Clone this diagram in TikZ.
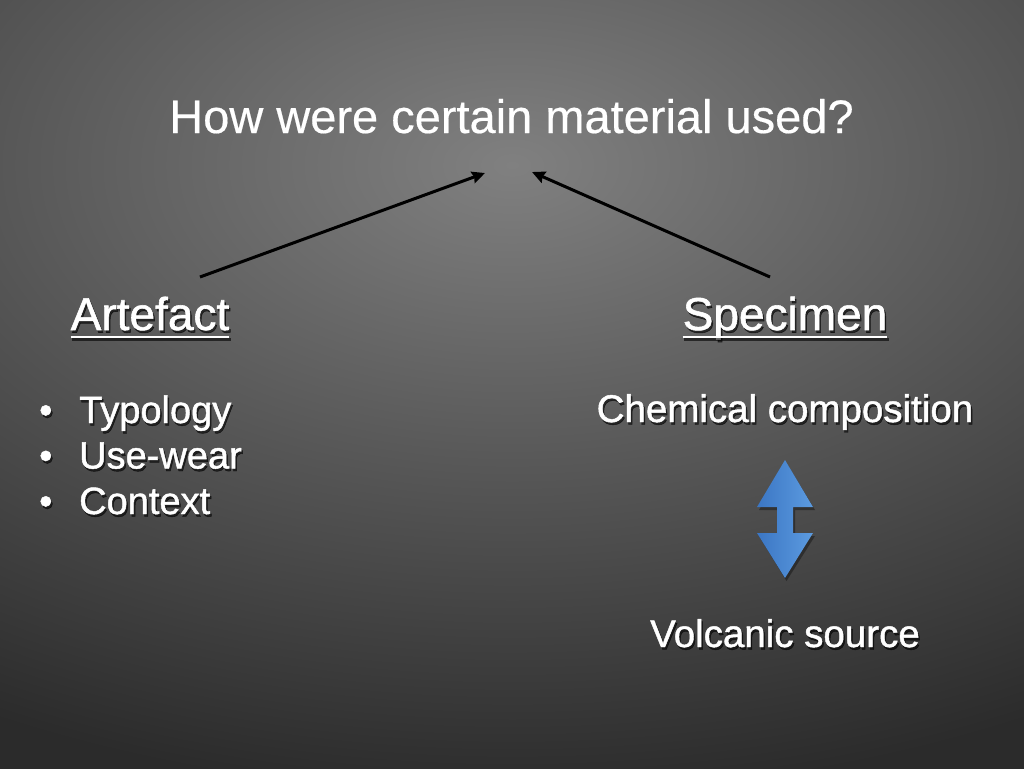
\documentclass[tikz,border=0pt]{standalone}
\usepackage{fontspec}
\setmainfont{Liberation Sans}
\newfontfamily\medfont[FakeBold=1.2]{Liberation Sans}
\newfontfamily\titfont[FakeBold=0.4]{Liberation Sans}
\usetikzlibrary{arrows.meta,calc}
\definecolor{bgin}{HTML}{808080}
\definecolor{bgout}{HTML}{2B2B2B}
\definecolor{blueL}{HTML}{3B76C4}
\definecolor{blueR}{HTML}{5C9BE0}
\pgfdeclareradialshading{bgsh}{\pgfpointorigin}{color(0bp)=(bgin); color(20bp)=(bgout); color(50bp)=(bgout)}
\newcommand\stxt[4]{%
  \node[shd,font=#3] (#1-s) at ($(#2)+(1.5,2.5)$) {#4};
  \node[txt,font=#3] (#1) at (#2) {#4};}
\begin{document}
\begin{tikzpicture}[x=1pt,y=-1pt,
  txt/.style={text=white, inner sep=0pt, anchor=base},
  shd/.style={text=black, opacity=0.6, inner sep=0pt, anchor=base},
  bul/.style={text=white, inner sep=0pt, anchor=base west},
  bulshd/.style={text=black, opacity=0.6, inner sep=0pt, anchor=base west},
  conn/.style={black, line width=3pt, -{Stealth[length=13pt,width=12pt,inset=1.5pt]}},
  uline/.style={white, line width=2.4pt},
  ulshd/.style={black, opacity=0.6, line width=2.4pt}]
\useasboundingbox (0,0) rectangle (1024,768);
\begin{scope}
  \clip (0,0) rectangle (1024,768);
  \fill[bgout] (0,0) rectangle (1024,768);
  \shade[shading=bgsh] (512,165) ellipse [x radius=1337, y radius=790];
\end{scope}
% title
\node[txt,font=\titfont\fontsize{47}{56}\selectfont] (title) at (511.5,133) {How were certain material used?};
% headings
\stxt{art}{150,330}{\medfont\fontsize{46}{56}\selectfont}{Artefact}
\stxt{spec}{785,330}{\medfont\fontsize{46}{56}\selectfont}{Specimen}
\draw[ulshd] ($(art-s.base west)+(0,7)$) -- ($(art-s.base east)+(0,7)$);
\draw[uline] ($(art.base west)+(0,7)$) -- ($(art.base east)+(0,7)$);
\draw[ulshd] ($(spec-s.base west)+(0,7)$) -- ($(spec-s.base east)+(0,7)$);
\draw[uline] ($(spec.base west)+(0,7)$) -- ($(spec.base east)+(0,7)$);
% bullets
\foreach \n/\y/\t in {b1/423/Typology, b2/468.5/Use-wear, b3/514/Context}{
  \node[bulshd,font=\medfont\fontsize{38}{46}\selectfont] (\n-ds) at (40.5,\y+2.5) {•};
  \node[bul,font=\medfont\fontsize{38}{46}\selectfont] (\n-d) at (39,\y) {•};
  \node[bulshd,font=\medfont\fontsize{38}{46}\selectfont] (\n-s) at (80.5,\y+2.5) {\t};
  \node[bul,font=\medfont\fontsize{38}{46}\selectfont] (\n) at (79,\y) {\t};
}
% specimen side
\stxt{chem}{785,422}{\medfont\fontsize{38.5}{46}\selectfont}{Chemical composition}
\stxt{volc}{785,647}{\medfont\fontsize{38.5}{46}\selectfont}{Volcanic source}
% blue double arrow
\fill[black, opacity=0.35] (786.5,463) -- (815,510) -- (795,510) -- (795,536) -- (815,536) -- (786.5,581) -- (759,536) -- (779,536) -- (779,510) -- (759,510) -- cycle;
\shade[left color=blueL, right color=blueR] (785,460) -- (813,507) -- (793,507) -- (793,533) -- (813,533) -- (785,578) -- (757,533) -- (777,533) -- (777,507) -- (757,507) -- cycle;
% connectors
\coordinate (artTop) at (200,277);
\coordinate (specTop) at (770,277);
\coordinate (tipL) at (485,173);
\coordinate (tipR) at (532,172);
\draw[conn] (artTop) -- (tipL);
\draw[conn] (specTop) -- (tipR);
\end{tikzpicture}
\end{document}
